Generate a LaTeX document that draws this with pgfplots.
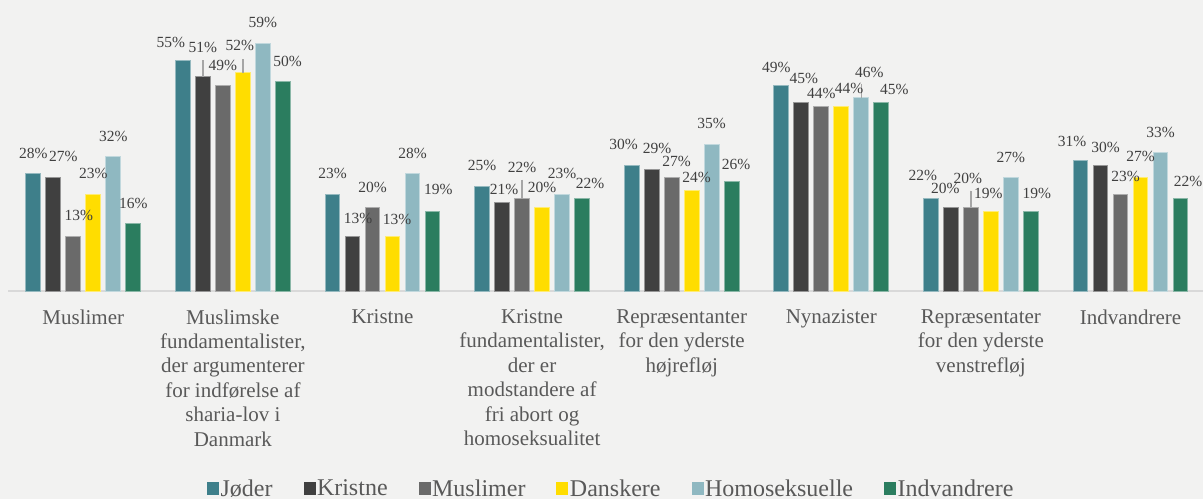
\documentclass[border=0pt]{standalone}
\usepackage{fontspec}
\setmainfont{LiberationSerif}[Extension=.ttf, UprightFont=*-Regular, BoldFont=*-Bold, ItalicFont=*-Italic, BoldItalicFont=*-BoldItalic]
\usepackage{pgfplots}
\pgfplotsset{compat=1.18}
\usepackage{pgfplotstable}
\definecolor{bg}{HTML}{F2F2F1}
\definecolor{cA}{HTML}{3E7F8A}
\definecolor{cB}{HTML}{404040}
\definecolor{cC}{HTML}{6A6A6A}
\definecolor{cD}{HTML}{FFDD00}
\definecolor{cE}{HTML}{8FB8C1}
\definecolor{cF}{HTML}{2B7D5F}
\definecolor{baseln}{HTML}{D9D9D9}
\definecolor{lbl}{HTML}{404040}
\definecolor{cat}{HTML}{595959}
\definecolor{lead}{HTML}{A6A6A6}

\pgfplotstableread{
x y dx dy e
0 28 0 20 0
1 55 -12 17.4 0
2 23 0 20.7 0
3 25 0 20.3 0
4 30 -8 20.7 0
5 49 -5 17.3 0
6 22 -8 22.7 0
7 31 -8.3 19.7 0
}\tJod
\pgfplotstableread{
x y dx dy e
0 27 10 21 0
1 51 0 29 3.9
2 13 5.5 17.7 0
3 21 2 13.7 0
4 29 5.5 20.3 0
5 45 2.5 24 0
6 20 -5.5 18.3 0
7 30 5 17.3 0
}\tKri
\pgfplotstableread{
x y dx dy e
0 13 5.5 20.6 0
1 49 0 20 0
2 20 0 19.4 0
3 22 0 31.3 4.45
4 27 5 15.7 0
5 44 0 12.7 0
6 20 -3 28.7 3.9
7 23 5 18 0
}\tMus
\pgfplotstableread{
x y dx dy e
0 23 0 21 0
1 52 -3 27 3.26
2 13 4.7 17 0
3 20 0 19.7 0
4 24 5 12.3 0
5 44 7.7 17.7 0
6 19 -2.5 18 0
7 27 0 21 0
}\tDan
\pgfplotstableread{
x y dx dy e
0 32 0 20 0
1 59 0 20.7 0
2 28 0 20 0
3 23 0 20.7 0
4 35 0 20.7 0
5 46 8 25.7 3.3
6 27 0 20 0
7 33 0 20.3 0
}\tHom
\pgfplotstableread{
x y dx dy e
0 16 0 20.6 0
1 50 4.7 20 0
2 19 5.8 21.3 0
3 22 8 15.3 0
4 26 4.3 17.3 0
5 45 13 12.7 0
6 19 6 17.7 0
7 22 7.7 17.3 0
}\tInd

\begin{document}
\begin{tikzpicture}
\fill[bg] (0,0) rectangle (1203pt,499pt);
\begin{axis}[
  at={(8.5pt,208pt)}, anchor=south west,
  scale only axis, width=1194.5pt, height=252pt,
  xmin=-0.5, xmax=7.485, ymin=0, ymax=60,
  clip=false,
  ybar, bar width=14.8pt,
  axis y line=none,
  axis x line*=bottom,
  x axis line style={-, draw=baseln, line width=1.5pt},
  xtick={0,...,7},
  major tick length=0pt,
  xtick style={draw=none},
  xticklabels={Muslimer,
    {Muslimske\\fundamentalister,\\der argumenterer\\for indførelse af\\sharia-lov i\\Danmark},
    Kristne,
    {Kristne\\fundamentalister,\\der er\\modstandere af\\fri abort og\\homoseksualitet},
    {Repræsentanter\\for den yderste\\højrefløj},
    Nynazister,
    {Repræsentater\\for den yderste\\venstrefløj},
    Indvandrere},
  xticklabel style={font=\fontsize{21}{24.4}\selectfont, text=cat, align=center, yshift=-15pt},
  /pgf/number format/assume math mode=true,
  point meta=y,
  visualization depends on={\thisrow{dx}\as\labdx},
  visualization depends on={\thisrow{dy}\as\labdy},
  nodes near coords={\pgfmathprintnumber{\pgfplotspointmeta}\%},
  nodes near coords style={anchor=center, xshift=\labdx pt, yshift=\labdy pt,
    font=\fontsize{15.5}{18}\selectfont, text=lbl, inner sep=0pt},
  error bars/y dir=plus,
  error bars/y explicit,
  error bars/error mark=none,
  error bars/error bar style={draw=lead, line width=1.5pt},
  legend columns=6,
  legend style={at={(0.5044,-0.784)}, anchor=center, draw=none, fill=none,
    font=\fontsize{24}{28}\selectfont, text=cat,
    /tikz/every even column/.append style={column sep=29.5pt},
    nodes={inner sep=1.5pt}},
  legend image code/.code={\fill[#1,draw=none] (0pt,-6.15pt) rectangle (12pt,6.15pt);},
]
\addplot[fill=cA, draw=cA!55!white, line width=0.8pt, bar shift=-50pt] table[x=x,y=y,y error=e] {\tJod};
\addplot[fill=cB, draw=cB!55!white, line width=0.8pt, bar shift=-30pt] table[x=x,y=y,y error=e] {\tKri};
\addplot[fill=cC, draw=cC!55!white, line width=0.8pt, bar shift=-10pt] table[x=x,y=y,y error=e] {\tMus};
\addplot[fill=cD, draw=cD!55!white, line width=0.8pt, bar shift=10pt] table[x=x,y=y,y error=e] {\tDan};
\addplot[fill=cE, draw=cE!55!white, line width=0.8pt, bar shift=30pt] table[x=x,y=y,y error=e] {\tHom};
\addplot[fill=cF, draw=cF!55!white, line width=0.8pt, bar shift=50pt] table[x=x,y=y,y error=e] {\tInd};
\legend{Jøder,Kristne,Muslimer,Danskere,Homoseksuelle,Indvandrere}
\end{axis}
\pgfresetboundingbox
\useasboundingbox (0,0) rectangle (1203pt,499pt);
\end{tikzpicture}
\end{document}
